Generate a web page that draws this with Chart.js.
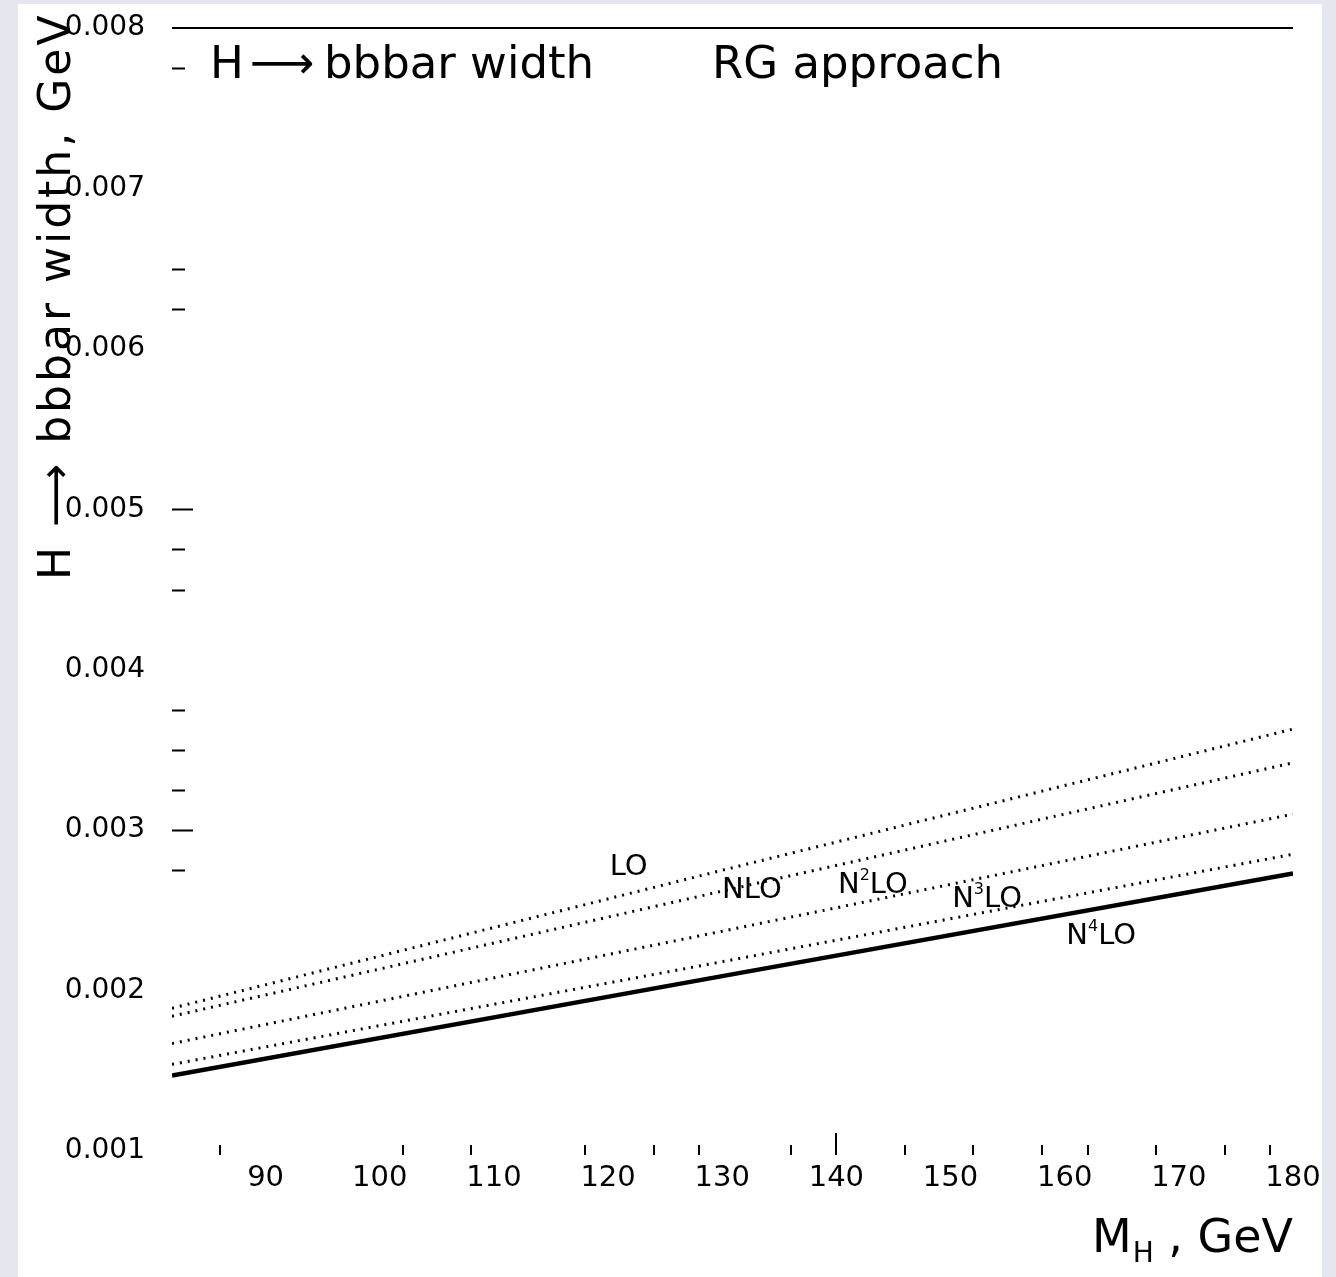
<!DOCTYPE html>
<html lang="en">
<head>
<meta charset="UTF-8" />
<title>H → bbbar width, RG approach</title>
<script src="https://cdn.jsdelivr.net/npm/chart.js"></script>
<style>
  body {
    margin: 0;
    background: #e4e7ee;
    width: 1336px;
    height: 1277px;
    overflow: hidden;
  }
  .panel {
    position: absolute;
    left: 18px;
    top: 4px;
    width: 1304px;
    height: 1273px;
    background: #ffffff;
  }
</style>
</head>
<body>
<div class="panel"><canvas id="chart" width="1304" height="1273"></canvas></div>
<script>
  // Higgs mass (GeV) and H -> bbbar width (GeV) per order
  const masses = [81.8, 130, 180];
  const lo   = [0.00189, 0.00275, 0.00363];
  const nlo  = [0.00184, 0.00262, 0.00342];
  const n2lo = [0.00167, 0.00237, 0.00310];
  const n3lo = [0.00154, 0.00218, 0.00285];
  const n4lo = [0.00147, 0.00209, 0.00273];

  const xLabels = [90, 100, 110, 120, 130, 140, 150, 160, 170, 180];
  const xMinorTicks = [86, 102, 108, 118, 124, 128, 136, 146, 152, 158, 162, 168, 174, 178];
  const xMajorTicks = [140];
  const yMinorTicks = [0.00775, 0.0065, 0.00625, 0.00475, 0.0045, 0.00375, 0.0035, 0.00325, 0.00275];
  const yMajorTicks = [0.005, 0.003];

  // curve labels: [base, superscript, mass, width]
  const curveLabels = [
    ['LO', '', 121.8, 0.002765],
    ['NLO', '', 132.6, 0.002622],
    ['N', '2', 143.2, 0.002653],
    ['N', '3', 153.2, 0.002566],
    ['N', '4', 163.2, 0.002335]
  ];

  // wanted plot frame inside the canvas
  const frame = { left: 154, top: 24, right: 1275, bottom: 1147 };

  const FONT = '"DejaVu Sans", sans-serif';

  function pts(ys) {
    return masses.map((m, i) => ({ x: m, y: ys[i] }));
  }

  const dotted = { borderColor: '#000', borderWidth: 3, borderDash: [2, 6], pointRadius: 0, fill: false };

  const decor = {
    id: 'decor',
    afterDraw(chart) {
      const ctx = chart.ctx;
      const a = chart.chartArea;
      const xs = chart.scales.x, ys = chart.scales.y;
      ctx.save();
      ctx.strokeStyle = '#000';
      ctx.fillStyle = '#000';

      // top frame line
      ctx.lineWidth = 2;
      ctx.beginPath();
      ctx.moveTo(a.left, a.top);
      ctx.lineTo(a.right, a.top);
      ctx.stroke();

      // tick marks inside the frame
      yMinorTicks.forEach(v => {
        const y = Math.round(ys.getPixelForValue(v)) + 0.5;
        ctx.beginPath(); ctx.moveTo(a.left, y); ctx.lineTo(a.left + 13, y); ctx.stroke();
      });
      yMajorTicks.forEach(v => {
        const y = Math.round(ys.getPixelForValue(v)) + 0.5;
        ctx.beginPath(); ctx.moveTo(a.left, y); ctx.lineTo(a.left + 21, y); ctx.stroke();
      });
      xMinorTicks.forEach(v => {
        const x = Math.round(xs.getPixelForValue(v));
        ctx.beginPath(); ctx.moveTo(x, a.bottom + 4); ctx.lineTo(x, a.bottom - 6); ctx.stroke();
      });
      xMajorTicks.forEach(v => {
        const x = Math.round(xs.getPixelForValue(v));
        ctx.beginPath(); ctx.moveTo(x, a.bottom + 4); ctx.lineTo(x, a.bottom - 18); ctx.stroke();
      });

      // titles
      ctx.textBaseline = 'alphabetic';
      ctx.textAlign = 'left';
      ctx.font = '45px ' + FONT;
      ctx.fillText('H', 192, 74);
      ctx.fillText('\u27F6', 232, 74);
      ctx.fillText('bbbar width', 306, 74);
      ctx.fillText('RG approach', 694, 74);

      // y axis title
      ctx.save();
      ctx.translate(52, 576);
      ctx.rotate(-Math.PI / 2);
      ctx.font = '44px ' + FONT;
      ctx.letterSpacing = '3px';
      ctx.fillText('H \u27F6 bbbar width, GeV', 0, 0);
      ctx.restore();

      // x axis title
      ctx.font = '46px ' + FONT;
      ctx.fillText('M', 1074, 1248);
      let w = ctx.measureText('M').width;
      ctx.font = '28px ' + FONT;
      ctx.fillText('H', 1074 + w + 1, 1258);
      w += ctx.measureText('H').width + 1;
      ctx.font = '46px ' + FONT;
      ctx.fillText(' , GeV', 1074 + w, 1248);

      // curve labels
      ctx.textBaseline = 'middle';
      curveLabels.forEach(([base, sup, m, v]) => {
        const cx = xs.getPixelForValue(m), cy = ys.getPixelForValue(v);
        ctx.font = '29px ' + FONT;
        const wb = ctx.measureText(base).width;
        let total = wb, ws = 0, wl = 0;
        if (sup) {
          ctx.font = '16px ' + FONT;
          ws = ctx.measureText(sup).width;
          ctx.font = '29px ' + FONT;
          wl = ctx.measureText('LO').width;
          total = wb + ws + wl;
        }
        const x0 = cx - total / 2;
        ctx.font = '29px ' + FONT;
        ctx.fillText(base, x0, cy);
        if (sup) {
          ctx.font = '16px ' + FONT;
          ctx.fillText(sup, x0 + wb, cy - 10);
          ctx.font = '29px ' + FONT;
          ctx.fillText('LO', x0 + wb + ws, cy);
        }
      });
      ctx.restore();
    }
  };

  const chart = new Chart(document.getElementById('chart'), {
    type: 'line',
    data: {
      datasets: [
        Object.assign({ label: 'LO', data: pts(lo) }, dotted),
        Object.assign({ label: 'NLO', data: pts(nlo) }, dotted),
        Object.assign({ label: 'N2LO', data: pts(n2lo) }, dotted),
        Object.assign({ label: 'N3LO', data: pts(n3lo) }, dotted),
        { label: 'N4LO', data: pts(n4lo), borderColor: '#000', borderWidth: 4.5, pointRadius: 0, fill: false }
      ]
    },
    options: {
      responsive: false,
      animation: false,
      layout: { padding: { top: 24, right: 29, left: 0, bottom: 0 } },
      plugins: { legend: { display: false }, tooltip: { enabled: false } },
      scales: {
        x: {
          type: 'linear',
          min: 81.8,
          max: 180,
          // gap between frame and labels comes from the (hidden) tick length
          grid: { display: false, drawTicks: true, tickLength: 10 },
          border: { display: false },
          afterBuildTicks(scale) { scale.ticks = xLabels.map(v => ({ value: v })); },
          afterFit(scale) { scale.height = 126; },
          ticks: {
            color: '#000',
            padding: 0,
            maxRotation: 0,
            font: { family: FONT, size: 29 },
            callback: v => String(v)
          }
        },
        y: {
          min: 0.001,
          max: 0.008,
          grid: { display: false, drawTicks: true, tickLength: 27 },
          border: { display: false },
          afterFit(scale) { scale.width = 154; },
          ticks: {
            color: '#000',
            stepSize: 0.001,
            padding: 0,
            font: { family: FONT, size: 28 },
            callback: v => v.toFixed(3)
          }
        }
      }
    },
    plugins: [decor]
  });

  // nudge the layout padding until the plot frame sits where wanted
  for (let i = 0; i < 2; i++) {
    const a = chart.chartArea;
    const p = chart.options.layout.padding;
    p.top = Math.max(0, p.top + frame.top - a.top);
    p.right = Math.max(0, p.right + a.right - frame.right);
    chart.update();
  }
</script>
</body>
</html>
